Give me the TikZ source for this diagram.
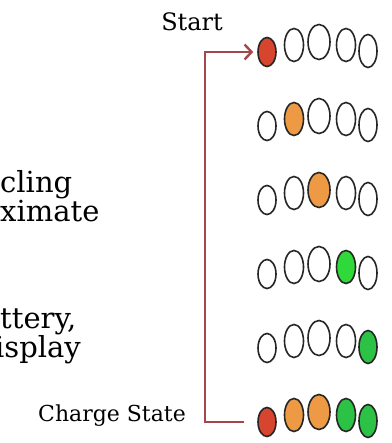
\documentclass[tikz,border=0pt]{standalone}
\usepackage{fontspec}
\setmainfont{DejaVu Serif}
\usetikzlibrary{shapes.geometric,arrows.meta}
\definecolor{ledred}{HTML}{D8452E}
\definecolor{ledorange}{HTML}{EE9A45}
\definecolor{ledgreen}{HTML}{2FD93A}
\definecolor{ledgreenB}{HTML}{2BC245}
\definecolor{bracketred}{HTML}{A4474A}
\tikzset{
 led/.style={ellipse, draw=black!85, line width=1.6pt, inner sep=0pt},
 lbl/.style={font=\fontsize{24}{28}\selectfont, inner sep=0pt, anchor=base east},
 sidetext/.style={font=\fontsize{29}{33}\selectfont, inner sep=0pt, anchor=base west},
 bracket/.style={draw=bracketred, line width=2.6pt},
}
\begin{document}
\begin{tikzpicture}[x=1pt,y=-1pt]
\useasboundingbox (0,0) rectangle (391,443);
\clip (0,0) rectangle (391,443);
\fill[white] (0,0) rectangle (391,443);
\foreach \r/\ca/\cb/\cc/\cd/\ce in {
 1/ledred/white/white/white/white,
 2/white/ledorange/white/white/white,
 3/white/white/ledorange/white/white,
 4/white/white/white/ledgreen/white,
 5/white/white/white/white/ledgreenB,
 6/ledred/ledorange/ledorange/ledgreenB/ledgreenB}{
 \pgfmathsetmacro\yy{46+74*(\r-1)}
 \node[led, fill=\ca, minimum width=18pt, minimum height=29pt] (L\r1) at (267,\yy+6) {};
 \node[led, fill=\cb, minimum width=19pt, minimum height=33pt] (L\r2) at (294,\yy-1) {};
 \node[led, fill=\cc, minimum width=22pt, minimum height=35pt] (L\r3) at (319,\yy-4) {};
 \node[led, fill=\cd, minimum width=19pt, minimum height=33pt] (L\r4) at (346,\yy-1) {};
 \node[led, fill=\ce, minimum width=18pt, minimum height=33pt] (L\r5) at (368,\yy+5) {};
}
\coordinate (corner) at (205,0);
\draw[bracket, -{Straight Barb[length=7pt,width=15pt,line width=2.4pt]}]
 ([xshift=-13pt]L61.west) -| (corner |- L11.west) -- ([xshift=-4pt]L11.west);
\node[lbl] (start) at (223,31) {Start};
\node[lbl, font=\fontsize{22}{26}\selectfont] (cs) at (186,421) {Charge State};
\node[sidetext] (t1) at (0,193) {cling};
\node[sidetext] (t2) at (0,222) {ximate};
\node[sidetext] (t3) at (0,328) {ttery,};
\node[sidetext] (t4) at (-5,357) {isplay};
\end{tikzpicture}
\end{document}
